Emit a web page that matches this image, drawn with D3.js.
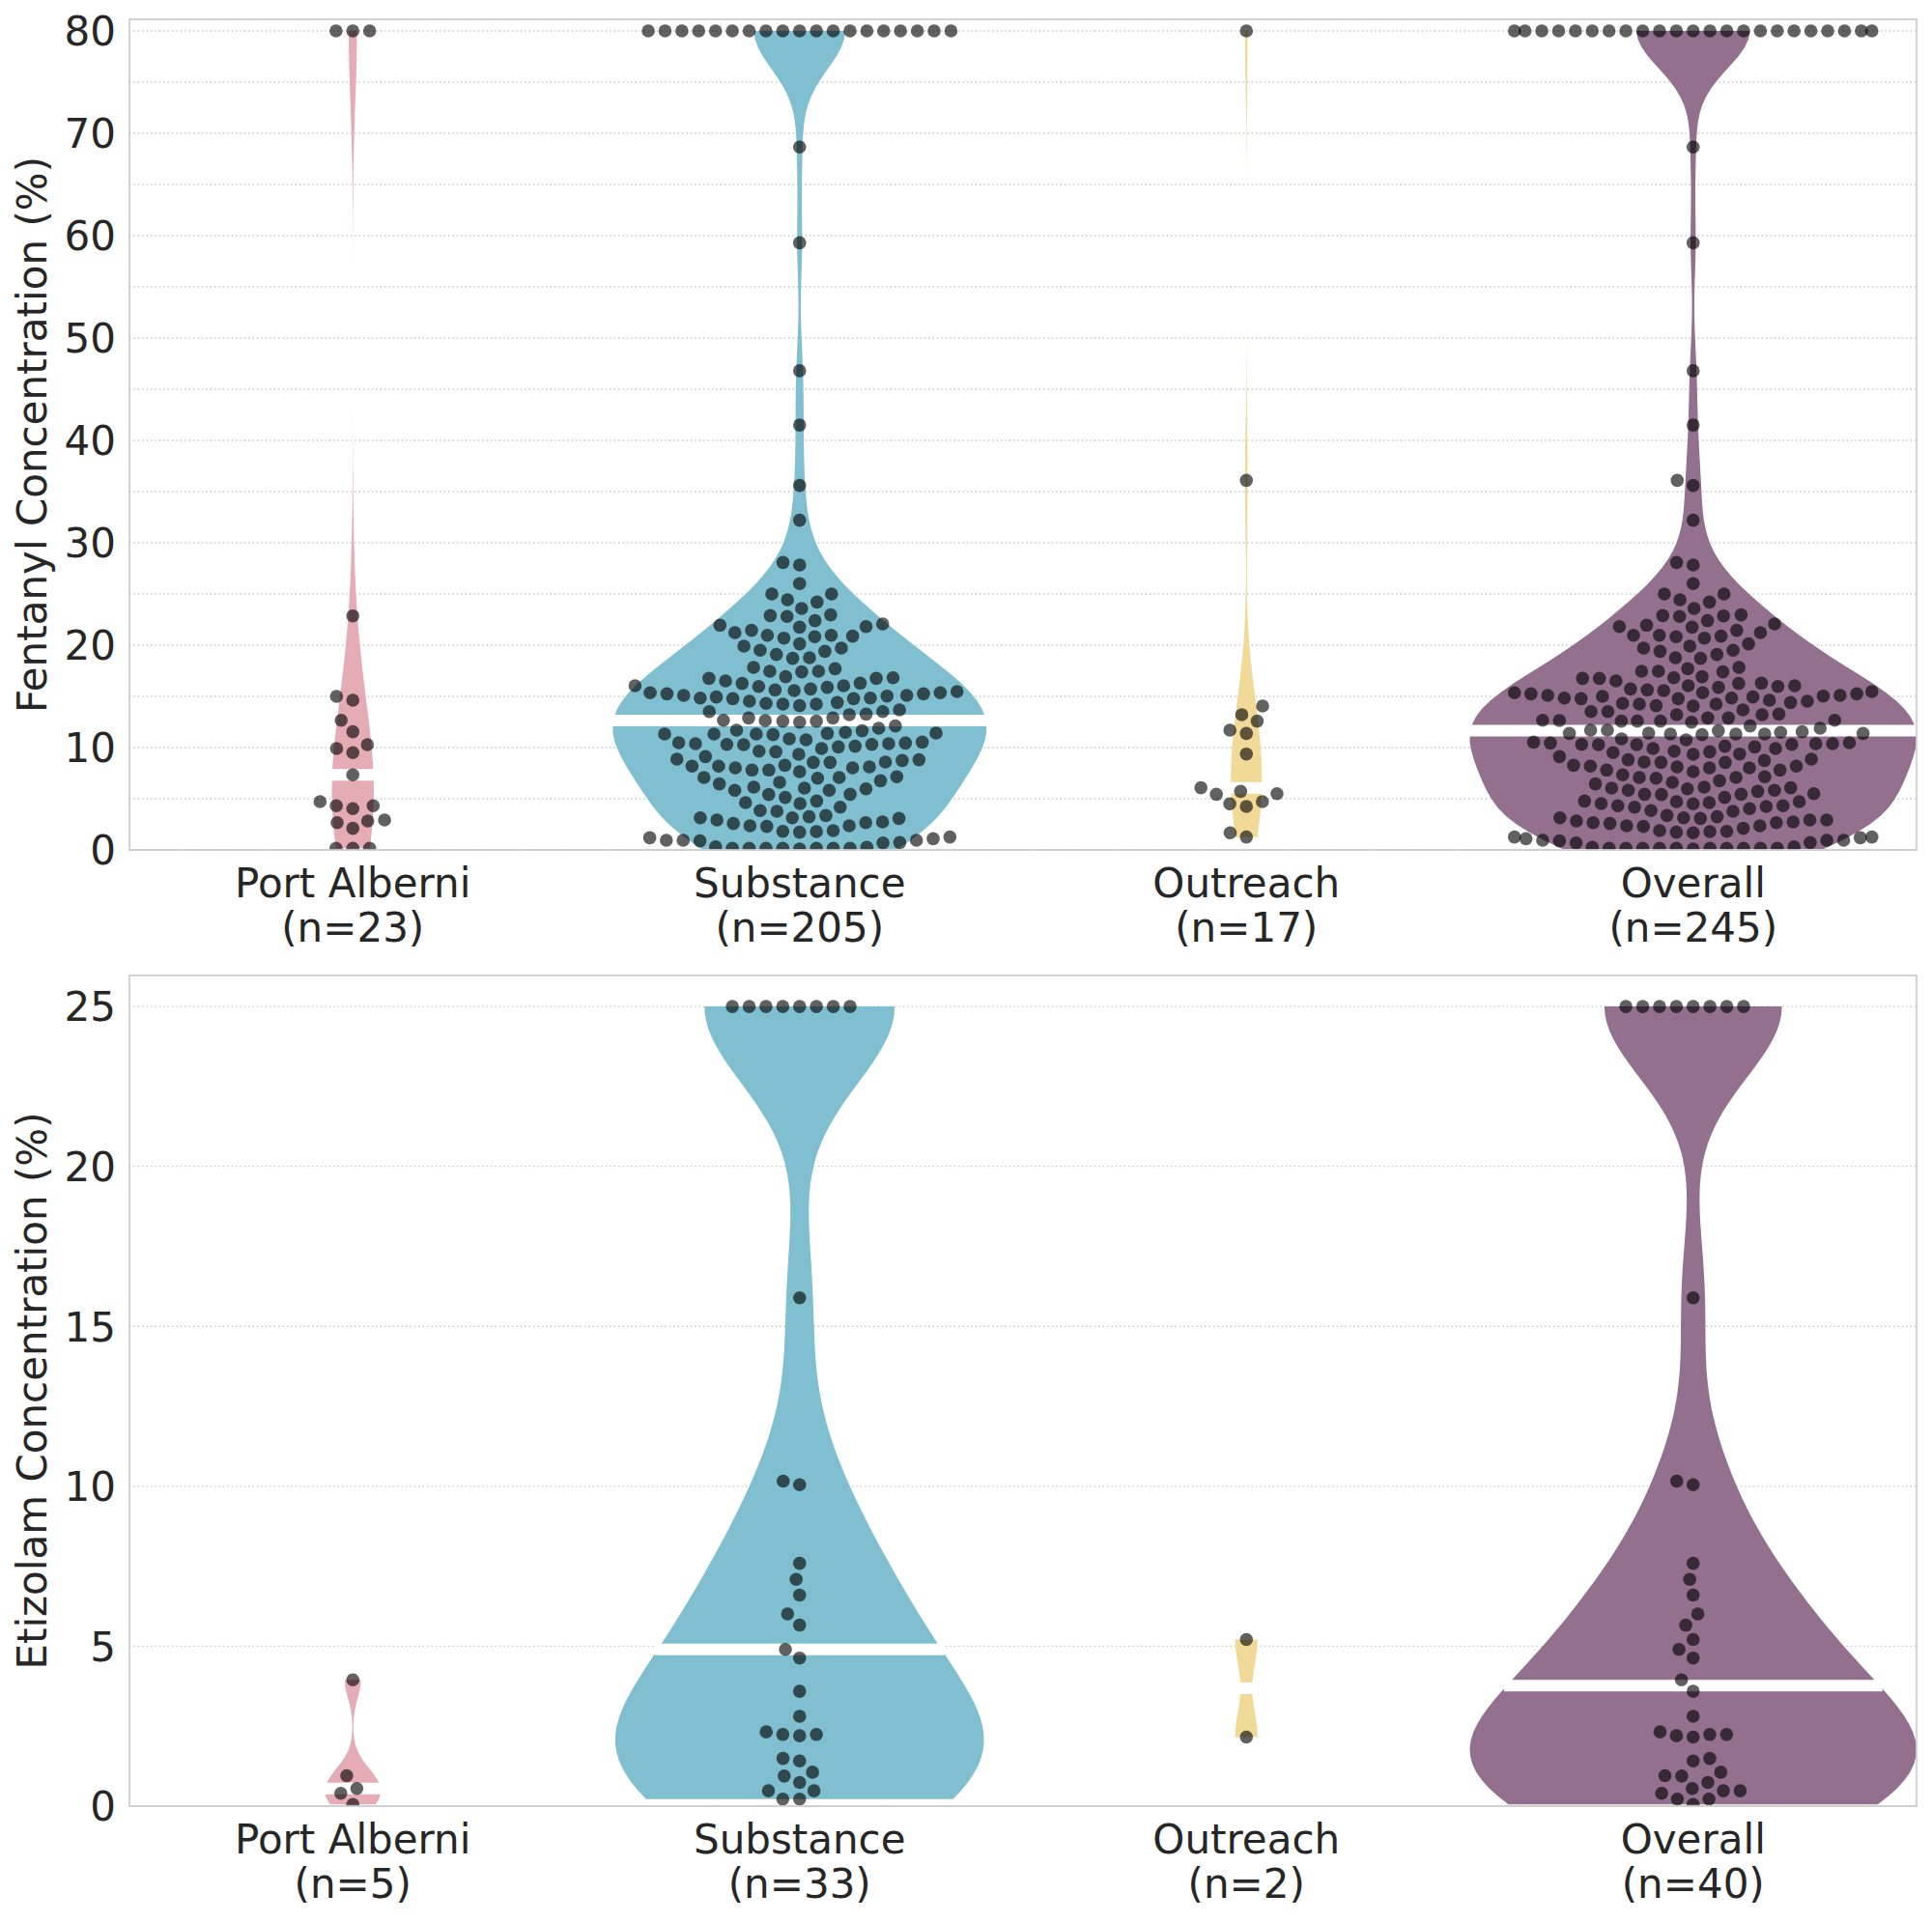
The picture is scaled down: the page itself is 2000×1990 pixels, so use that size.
<!DOCTYPE html>
<html><head><meta charset="utf-8">
<script src="https://cdn.jsdelivr.net/npm/d3@7"></script>
<style>
body{margin:0;background:#fff}
svg{display:block}
text{font-family:"DejaVu Sans",sans-serif;fill:#262626}
</style>
</head><body>
<svg id="chart" width="2000" height="1990"></svg>
<script>
// ---------------- DATA ----------------
const categories = ["Port Alberni", "Substance", "Outreach", "Overall"];
const fentanylCountLabels = ["(n=23)", "(n=205)", "(n=17)", "(n=245)"];
const etizolamCountLabels = ["(n=5)", "(n=33)", "(n=2)", "(n=40)"];
const fentanylTicks = [0, 10, 20, 30, 40, 50, 60, 70, 80];
const fentanylGrid = [0, 5, 10, 15, 20, 25, 30, 35, 40, 45, 50, 55, 60, 65, 70, 75, 80];
const etizolamTicks = [0, 5, 10, 15, 20, 25];
const groupColors = ["#e6acb6", "#7fbfd0", "#f1da98", "#92708e"];

const fentanylPortAlberni = [80, 80, 80, 22.86, 15.0, 14.62, 12.67, 11.54, 9.91, 9.5, 10.28, 7.33,
  4.31, 4.31, 4.03, 4.72, 2.67, 2.83, 2.92, 2.11, 0.16, 0.16, 0.16];

const fentanylSubstance = [
  80, 80, 80, 80, 80, 80, 80, 80, 80, 80, 80, 80, 80, 80, 80, 80, 80, 80, 80,
  68.65, 59.3, 46.8, 41.5, 35.6, 32.2,
  28.08, 27.83, 26.01, 25.0, 25.0, 24.21, 24.43, 23.58, 22.89, 22.80, 22.96, 22.39, 21.95, 22.08,
  21.76, 21.45, 21.82, 20.97, 20.88, 20.69, 20.82, 21.23, 20.97, 20.13, 19.72, 19.91, 19.50, 19.09,
  19.40, 18.71, 18.77, 17.70, 17.45, 17.39, 17.83, 17.45, 16.92, 16.76, 16.76, 16.82, 16.51, 15.97,
  16.29, 15.72, 15.63, 15.88, 16.26, 16.04, 15.47, 15.25, 14.94, 14.84, 14.78, 14.40, 15.25, 15.03,
  15.09, 15.35, 14.09, 14.25, 14.25, 14.31, 14.53, 14.78, 14.84, 15.09, 15.35, 15.57, 16.04, 13.52,
  13.52, 13.21, 13.27, 13.68, 12.64, 12.67, 12.48, 12.89, 12.58, 12.58, 12.89, 11.89, 12.11, 11.48,
  11.38, 11.64, 11.32, 11.26, 11.70, 11.32, 11.42, 11.32, 10.53, 10.44, 10.38, 10.28, 10.06, 9.91,
  10.75, 10.85, 10.13, 10.31, 10.31, 10.38, 10.47, 9.59, 9.65, 9.34, 9.12, 8.81, 8.74, 8.55, 8.55,
  8.58, 8.87, 8.18, 8.02, 8.11, 8.18, 8.02, 8.27, 7.64, 7.80, 7.80, 7.08, 7.01, 7.14, 7.08, 6.76,
  6.60, 6.45, 5.97, 5.82, 6.04, 6.13, 5.82, 5.13, 5.44, 5.41, 4.78, 4.53, 4.62, 4.18, 3.77, 3.84,
  3.14, 2.74, 2.67, 2.36, 3.24, 3.14, 1.89, 1.79, 1.73, 1.82, 2.30, 2.36, 2.58, 2.92, 3.08, 3.36,
  1.19, 0.94, 0.94, 0.72, 0.69, 0.94, 0.88, 1.10, 1.26, 0.31, 0.16, 0.16, 0.16, 0.16, 0.16, 0.16,
  0.16, 0.25, 0.10];

const fentanylOutreach = [80, 36.1, 14.06, 13.21, 12.58, 11.70, 11.38, 9.37, 6.07, 5.72, 5.44, 5.50,
  4.50, 4.72, 4.25, 1.67, 1.26];

const etizolamPortAlberni = [3.95, 0.95, 0.55, 0.40, 0.05];

const etizolamSubstance = [25, 25, 25, 25, 25, 25, 25, 25, 15.89, 10.16, 10.05, 7.59, 7.09, 6.60,
  6.01, 5.66, 4.90, 4.63, 3.59, 2.81, 2.32, 2.24, 2.20, 2.24, 1.41, 1.49, 1.06, 0.94, 0.74, 0.48,
  0.48, 0.22, 0.22];

const etizolamOutreach = [5.21, 2.16];

const fentanylOverall = [...fentanylPortAlberni, ...fentanylSubstance, ...fentanylOutreach];
const etizolamOverall = [...etizolamPortAlberni, ...etizolamSubstance, ...etizolamOutreach];

// ---------------- DRAWING ----------------
const svg = d3.select("#chart");
const FONT = 42;

function kde(vals, gridsize, adjust) {
  const n = vals.length;
  const sd = d3.deviation(vals);
  const bw = sd * Math.pow(n, -0.2) * adjust;
  const lo = d3.min(vals), hi = d3.max(vals);
  return d3.range(gridsize).map(k => {
    const t = lo + (hi - lo) * k / (gridsize - 1);
    let s = 0;
    for (const v of vals) { const z = (t - v) / bw; s += Math.exp(-0.5 * z * z); }
    return [t, s / (n * bw * Math.sqrt(2 * Math.PI))];
  });
}

// seaborn-style beeswarm (points sorted by value, candidates tested nearest-to-centre first)
function beeswarm(vals, yScale, cx, r, halfWidth) {
  const pts = vals.map(v => ({ v, x: cx, dy: -yScale(v) }));
  pts.sort((a, b) => a.dy - b.dy);
  const swarm = [pts[0]];
  for (let k = 1; k < pts.length; k++) {
    const p = pts[k];
    const nb = [];
    for (let j = swarm.length - 1; j >= 0; j--) {
      const q = swarm[j];
      if ((p.dy - q.dy) < 2 * r) nb.push(q); else break;
    }
    nb.reverse();
    const cands = [p.x];
    let leftFirst = true;
    for (const q of nb) {
      const d = p.dy - q.dy;
      const dx = Math.sqrt(Math.max(4 * r * r - d * d, 0)) * 1.05;
      if (leftFirst) cands.push(q.x - dx, q.x + dx); else cands.push(q.x + dx, q.x - dx);
      leftFirst = !leftFirst;
    }
    const ordered = cands.map((x, i) => ({ x, i, o: Math.abs(x - cx) }))
      .sort((a, b) => (a.o - b.o) || (a.i - b.i));
    let chosen = ordered[0].x;
    if (nb.length) {
      for (const c of ordered) {
        let ok = true;
        for (const q of nb) {
          const ddx = q.x - c.x, ddy = q.dy - p.dy;
          if (ddx * ddx + ddy * ddy < 4 * r * r - 1e-9) { ok = false; break; }
        }
        if (ok) { chosen = c.x; break; }
      }
    }
    p.x = chosen;
    swarm.push(p);
  }
  swarm.forEach(p => { p.x = Math.max(cx - halfWidth, Math.min(cx + halfWidth, p.x)); });
  return swarm.map(p => ({ v: p.v, x: p.x }));
}

function drawPanel(cfg) {
  const { top, bottom, left, right, yMax, grid, ticks, groups, countLabels, yLabel, id } = cfg;
  const x = d3.scalePoint().domain(categories).range([left, right]).padding(0.5);
  const step = x.step();
  const y = d3.scaleLinear().domain([0, yMax]).range([bottom, top]);
  const g = svg.append("g");

  g.append("clipPath").attr("id", "clip" + id)
    .append("rect").attr("x", left).attr("y", top).attr("width", right - left).attr("height", bottom - top);

  g.append("g").selectAll("line").data(grid).join("line")
    .attr("x1", left).attr("x2", right)
    .attr("y1", d => y(d)).attr("y2", d => y(d))
    .attr("stroke", "#c4c4c4").attr("stroke-width", 1.3)
    .attr("stroke-dasharray", "1.4,3");

  const plot = g.append("g").attr("clip-path", `url(#clip${id})`);
  const maxN = d3.max(groups, d => d.length);

  groups.forEach((vals, i) => {
    const cx = x(categories[i]);
    const dens = kde(vals, 100, 0.5);
    const dmax = d3.max(dens, d => d[1]);
    const hw = step * 0.5 * vals.length / maxN;
    const wOf = d => d[1] / dmax * hw;
    const area = d3.area()
      .y(d => y(d[0]))
      .x0(d => cx - wOf(d))
      .x1(d => cx + wOf(d));
    plot.append("path").datum(dens).attr("d", area).attr("fill", groupColors[i]);

    const med = d3.median(vals);
    const idx = d3.bisector(d => d[0]).left(dens, med);
    let wm;
    if (idx <= 0) wm = wOf(dens[0]);
    else if (idx >= dens.length) wm = wOf(dens[dens.length - 1]);
    else {
      const a = dens[idx - 1], b = dens[idx];
      const t = (med - a[0]) / (b[0] - a[0]);
      wm = (a[1] + (b[1] - a[1]) * t) / dmax * hw;
    }
    plot.append("line")
      .attr("x1", cx - wm - 3).attr("x2", cx + wm + 3)
      .attr("y1", y(med)).attr("y2", y(med))
      .attr("stroke", "#ffffff").attr("stroke-width", 12);
  });

  groups.forEach((vals, i) => {
    const cx = x(categories[i]);
    const pts = beeswarm(vals, y, cx, 8.29, step * 0.4);
    plot.append("g").selectAll("circle").data(pts).join("circle")
      .attr("cx", d => d.x).attr("cy", d => y(d.v)).attr("r", 6.8)
      .attr("fill", "#000000").attr("fill-opacity", 0.62);
  });

  g.append("rect").attr("x", left).attr("y", top).attr("width", right - left).attr("height", bottom - top)
    .attr("fill", "none").attr("stroke", "#cccccc").attr("stroke-width", 1.7);

  g.append("g").selectAll("text").data(ticks).join("text")
    .attr("x", left - 14).attr("y", d => y(d) + FONT * 0.365)
    .attr("text-anchor", "end").attr("font-size", FONT).text(d => d);

  const xl = g.append("g").selectAll("g").data(categories).join("g")
    .attr("transform", d => `translate(${x(d)},${bottom})`);
  xl.append("text").attr("y", 49).attr("text-anchor", "middle").attr("font-size", FONT).text(d => d);
  xl.append("text").attr("y", 95).attr("text-anchor", "middle").attr("font-size", FONT)
    .text((d, i) => countLabels[i]);

  g.append("text")
    .attr("transform", `translate(48,${(top + bottom) / 2}) rotate(-90)`)
    .attr("text-anchor", "middle").attr("font-size", FONT).text(yLabel);
}

drawPanel({
  id: "f", top: 20, bottom: 880, left: 134, right: 1984, yMax: 81.13,
  grid: fentanylGrid, ticks: fentanylTicks,
  groups: [fentanylPortAlberni, fentanylSubstance, fentanylOutreach, fentanylOverall],
  countLabels: fentanylCountLabels, yLabel: "Fentanyl Concentration (%)"
});

drawPanel({
  id: "e", top: 1010, bottom: 1870, left: 134, right: 1984, yMax: 25.97,
  grid: etizolamTicks, ticks: etizolamTicks,
  groups: [etizolamPortAlberni, etizolamSubstance, etizolamOutreach, etizolamOverall],
  countLabels: etizolamCountLabels, yLabel: "Etizolam Concentration (%)"
});
</script>
</body></html>
